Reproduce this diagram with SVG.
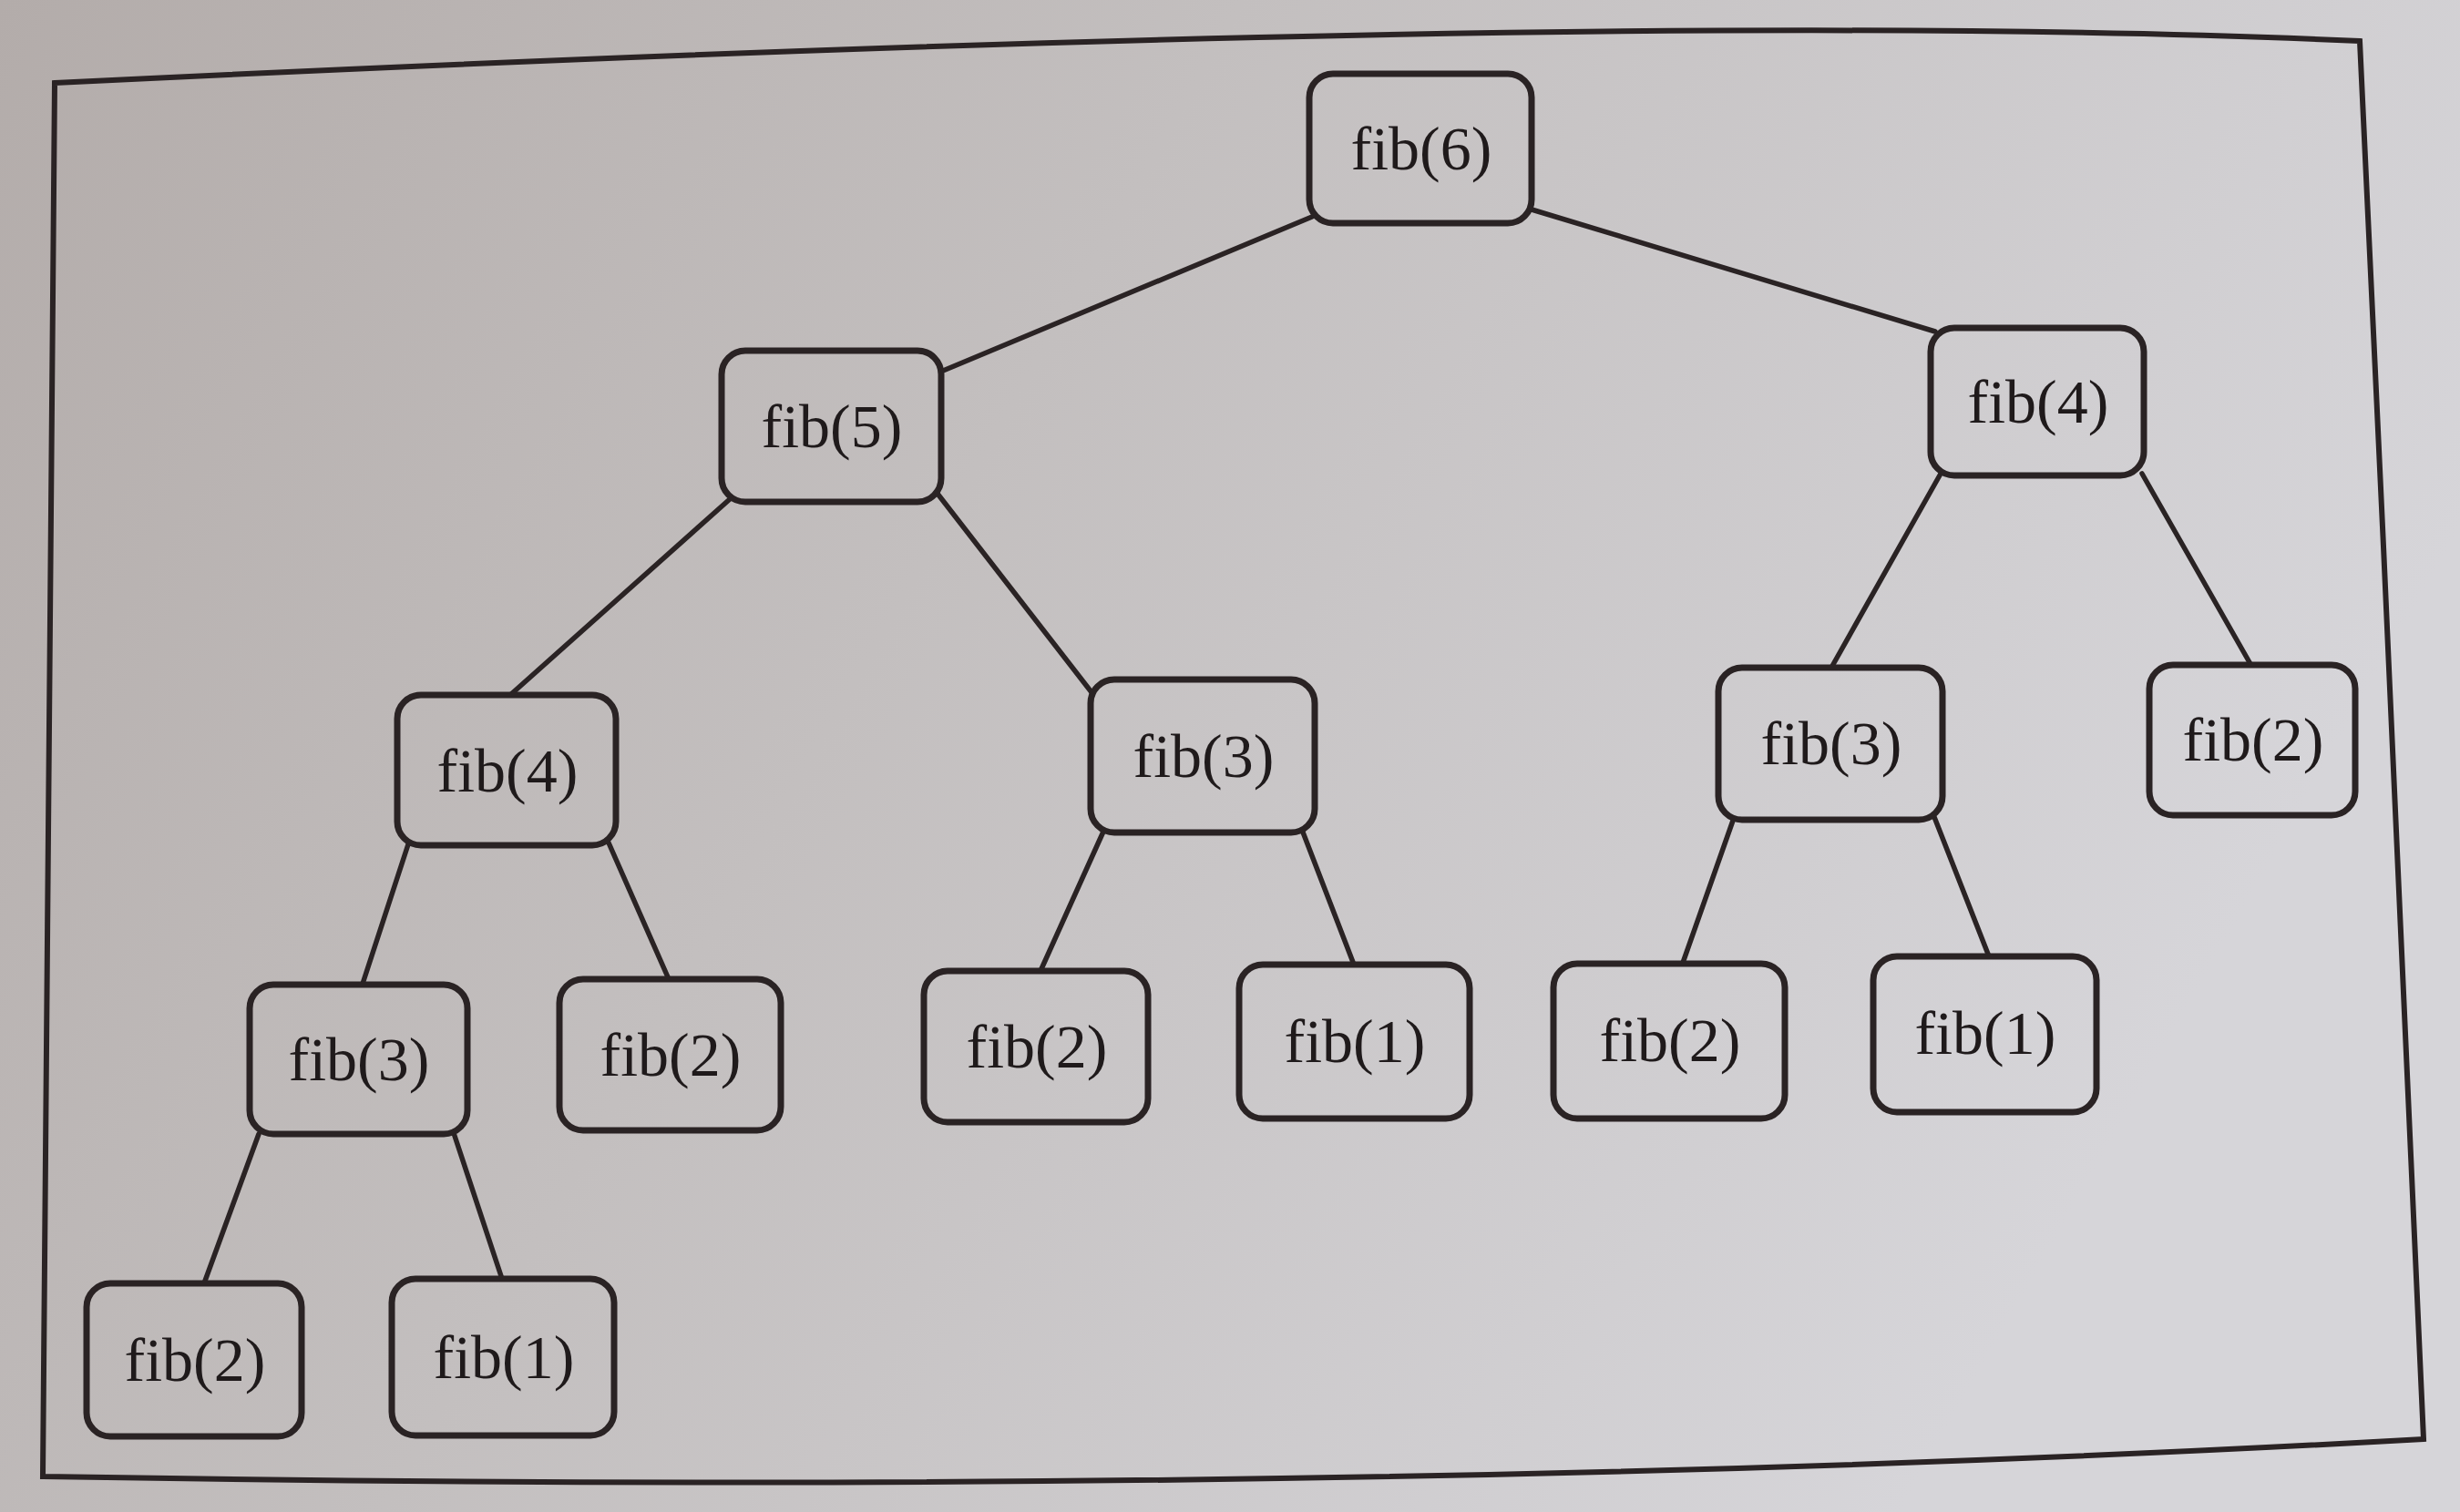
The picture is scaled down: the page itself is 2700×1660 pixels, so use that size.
<svg xmlns="http://www.w3.org/2000/svg" width="2700" height="1660" viewBox="0 0 2700 1660">
  <defs>
    <linearGradient id="paper" x1="0" y1="0" x2="1" y2="0.35">
      <stop offset="0" stop-color="#b3acaa"/>
      <stop offset="0.45" stop-color="#c3bfbf"/>
      <stop offset="1" stop-color="#d6d5d9"/>
    </linearGradient>
    <style>
      .box { fill: none; stroke: #2a2324; stroke-width: 7; }
      .edge { stroke: #2a2324; stroke-width: 5.5; fill: none; stroke-linecap: round; }
      .frame { fill: none; stroke: #2a2324; stroke-width: 6; stroke-linejoin: miter; }
      .lbl { font-family: "Liberation Serif", "Times New Roman", serif; font-size: 68px; fill: #1f1a1b; text-anchor: middle; }
    </style>
  </defs>

  <rect x="0" y="0" width="2700" height="1660" fill="url(#paper)"/>

  <path class="frame" d="M60,91 C900,50 1900,14 2590,45 L2616,600 L2660,1580 Q1500,1645 47,1621 Z"/>

  <g id="connectors">
    <line class="edge" x1="1440" y1="238" x2="1035" y2="407"/>
    <line class="edge" x1="1681" y1="230" x2="2124" y2="364"/>
    <line class="edge" x1="801" y1="548" x2="560" y2="763"/>
    <line class="edge" x1="1029" y1="542" x2="1198" y2="760"/>
    <line class="edge" x1="2130" y1="520" x2="2010" y2="733"/>
    <line class="edge" x1="2351" y1="520" x2="2470" y2="729"/>
    <line class="edge" x1="448" y1="927" x2="398" y2="1080"/>
    <line class="edge" x1="667" y1="923" x2="734" y2="1075"/>
    <line class="edge" x1="284" y1="1245" x2="224" y2="1409"/>
    <line class="edge" x1="498" y1="1244" x2="551" y2="1404"/>
    <line class="edge" x1="1211" y1="913" x2="1142" y2="1066"/>
    <line class="edge" x1="1429" y1="911" x2="1486" y2="1059"/>
    <line class="edge" x1="1903" y1="898" x2="1847" y2="1057"/>
    <line class="edge" x1="2123" y1="897" x2="2183" y2="1050"/>
  </g>

  <g id="n-fib6">
    <rect class="box" x="1437" y="81" width="244" height="164" rx="26"/>
    <text class="lbl" x="1560" y="186">fib(6)</text>
  </g>
  <g id="n-fib5">
    <rect class="box" x="792" y="385" width="241" height="166" rx="26"/>
    <text class="lbl" x="913" y="491">fib(5)</text>
  </g>
  <g id="n-fib4-right">
    <rect class="box" x="2119" y="360" width="234" height="162" rx="26"/>
    <text class="lbl" x="2237" y="464">fib(4)</text>
  </g>
  <g id="n-fib4-left">
    <rect class="box" x="436" y="763" width="240" height="165" rx="26"/>
    <text class="lbl" x="557" y="869">fib(4)</text>
  </g>
  <g id="n-fib3-mid">
    <rect class="box" x="1197" y="746" width="246" height="168" rx="26"/>
    <text class="lbl" x="1321" y="853">fib(3)</text>
  </g>
  <g id="n-fib3-right">
    <rect class="box" x="1886" y="733" width="246" height="167" rx="26"/>
    <text class="lbl" x="2010" y="839">fib(3)</text>
  </g>
  <g id="n-fib2-farright">
    <rect class="box" x="2359" y="730" width="226" height="165" rx="26"/>
    <text class="lbl" x="2473" y="835">fib(2)</text>
  </g>
  <g id="n-fib3-left">
    <rect class="box" x="274" y="1081" width="239" height="164" rx="26"/>
    <text class="lbl" x="394" y="1186">fib(3)</text>
  </g>
  <g id="n-fib2-a">
    <rect class="box" x="614" y="1075" width="243" height="166" rx="26"/>
    <text class="lbl" x="736" y="1181">fib(2)</text>
  </g>
  <g id="n-fib2-b">
    <rect class="box" x="1014" y="1066" width="246" height="166" rx="26"/>
    <text class="lbl" x="1138" y="1172">fib(2)</text>
  </g>
  <g id="n-fib1-b">
    <rect class="box" x="1360" y="1059" width="253" height="169" rx="26"/>
    <text class="lbl" x="1487" y="1166">fib(1)</text>
  </g>
  <g id="n-fib2-c">
    <rect class="box" x="1705" y="1058" width="254" height="170" rx="26"/>
    <text class="lbl" x="1833" y="1165">fib(2)</text>
  </g>
  <g id="n-fib1-c">
    <rect class="box" x="2056" y="1050" width="245" height="171" rx="26"/>
    <text class="lbl" x="2179" y="1157">fib(1)</text>
  </g>
  <g id="n-fib2-d">
    <rect class="box" x="95" y="1409" width="236" height="168" rx="26"/>
    <text class="lbl" x="214" y="1516">fib(2)</text>
  </g>
  <g id="n-fib1-d">
    <rect class="box" x="430" y="1404" width="244" height="172" rx="26"/>
    <text class="lbl" x="553" y="1513">fib(1)</text>
  </g>
</svg>
